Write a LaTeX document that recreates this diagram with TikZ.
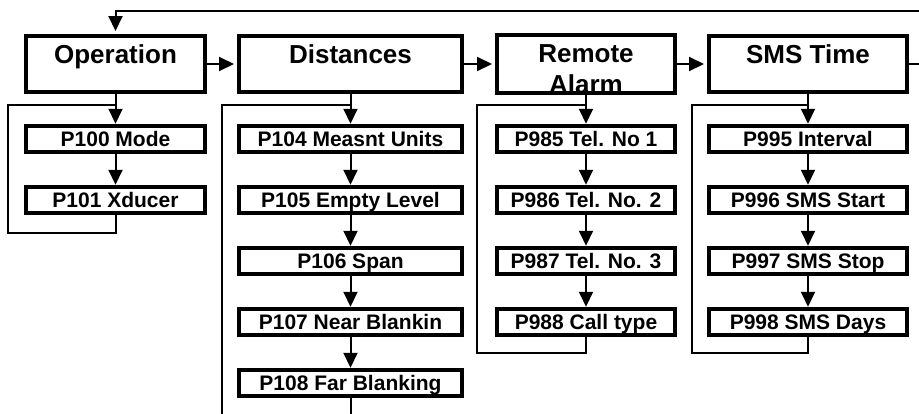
\documentclass[tikz,border=0pt]{standalone}
\usepackage{fontspec}
\setmainfont{Liberation Sans}
\usetikzlibrary{arrows.meta}

\tikzset{
  menu/.style={draw, line width=4pt, inner sep=0pt, align=center,
    font=\fontsize{26}{31}\selectfont\bfseries,
    text height=27pt, text depth=29pt},
  twoline/.style={text height=58pt, text depth=-2pt},
  param/.style={draw, line width=4pt, inner sep=0pt, minimum height=26.5pt,
    font=\fontsize{21}{25}\selectfont\bfseries,
    text height=15pt, text depth=0pt},
  flow/.style={line width=2pt, -{Triangle[width=14pt,length=15pt]}},
  link/.style={line width=2pt}
}

\begin{document}
\begin{tikzpicture}[x=1pt,y=-1pt]
        \useasboundingbox (0,0) rectangle (919,413);

        % draw menu boxes
        \node[menu, minimum width=179pt] (op)   at (115.5,64) {Operation};
        \node[menu, minimum width=223pt] (dist) at (350.5,64) {Distances};
        \node[menu, twoline, minimum width=178pt] (rem) at (586,64) {Remote\\Alarm};
        \node[menu, minimum width=198pt] (sms)  at (808,64)   {SMS Time};

        % draw parameter boxes
        \foreach \name/\y/\txt in {p100/139/P100 Mode, p101/200/P101 Xducer}
          \node[param, minimum width=179pt] (\name) at (115.5,\y) {\txt};
        \foreach \name/\y/\txt in {p104/139/P104 Measnt Units, p105/200/P105 Empty Level,
            p106/261/P106 Span, p107/322/P107 Near Blankin, p108/383/P108 Far Blanking}
          \node[param, minimum width=223pt] (\name) at (350.5,\y) {\txt};
        \foreach \name/\y/\txt in {p985/139/P985 Tel. No 1, p986/200/P986 Tel. No. 2,
            p987/261/P987 Tel. No. 3, p988/322/P988 Call type}
          \node[param, minimum width=178pt] (\name) at (586,\y) {\txt};
        \foreach \name/\y/\txt in {p995/139/P995 Interval, p996/200/P996 SMS Start,
            p997/261/P997 SMS Stop, p998/322/P998 SMS Days}
          \node[param, minimum width=198pt] (\name) at (808,\y) {\txt};

        % draw arrows between menus
        \foreach \a/\b in {op/dist, dist/rem, rem/sms}
          \draw[flow, shorten >=3pt] (\a) -- (\b);

        % draw arrows down each column
        \foreach \a/\b in {op/p100, p100/p101,
            dist/p104, p104/p105, p105/p106, p106/p107, p107/p108,
            rem/p985, p985/p986, p986/p987, p987/p988,
            sms/p995, p995/p996, p996/p997, p997/p998}
          \draw[flow] (\a) -- (\b);

        % draw return line to first menu
        \coordinate (ret) at (922,11);
        \draw[flow, shorten >=3pt] (sms.east) -- (sms.east -| ret) -- (ret) -| (op.north);

        % draw loops round each column
        \coordinate (l1) at (8,105);
        \coordinate (l2) at (222,105);
        \coordinate (l3) at (477,105);
        \coordinate (l4) at (692,105);
        \coordinate (dend) at (350.5,416);
        \coordinate (lend) at (222,416);
        \draw[link] (p101.south) -- ++(0,17.5) -| (l1) -- (l1 -| op.south);
        \draw[link] (p108.south) -- (dend);
        \draw[link] (lend) -- (l2) -- (l2 -| dist.south);
        \draw[link] (p988.south) -- ++(0,16) -| (l3) -- (l3 -| rem.south);
        \draw[link] (p998.south) -- ++(0,16) -| (l4) -- (l4 -| sms.south);
\end{tikzpicture}
\end{document}
